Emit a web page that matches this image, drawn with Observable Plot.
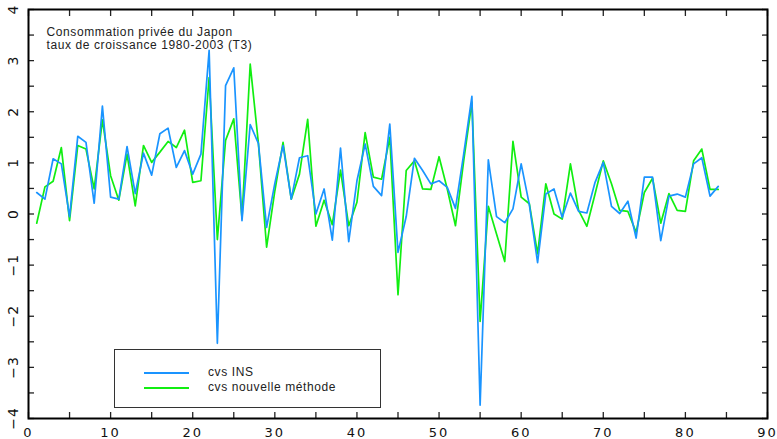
<!DOCTYPE html>
<html>
<head>
<meta charset="utf-8">
<script src="https://cdn.jsdelivr.net/npm/d3@7"></script>
<script src="https://cdn.jsdelivr.net/npm/@observablehq/plot@0.6"></script>
<style>
  html, body { margin: 0; padding: 0; background: #fff; }
  #wrap { position: relative; width: 777px; height: 439px; }
  [aria-description="title-text"] text { letter-spacing: 0.6px; }
  [aria-description="x-labels"] text { letter-spacing: 2px; }
  [aria-description="y-labels"] text { letter-spacing: 1px; }
  #legend {
    position: absolute; left: 114px; top: 349px; width: 265px; height: 57px;
    border: 1px solid #333; background: #fff; box-sizing: content-box;
    font-family: "Liberation Sans", Arial, sans-serif; font-size: 12px; letter-spacing: 0.6px; color: #222;
  }
  #legend .row { position: absolute; left: 0; height: 14px; }
  #legend .sw { position: absolute; left: 29px; width: 45px; height: 2px; }
  #legend .lab { position: absolute; left: 93px; top: -7px; white-space: nowrap; }
</style>
</head>
<body>
<div id="wrap"></div>
<script>
// Period index (quarters 1980-2003)
const periods = [1,2,3,4,5,6,7,8,9,10,11,12,13,14,15,16,17,18,19,20,21,22,23,24,25,26,27,28,29,30,31,32,33,34,35,36,37,38,39,40,41,42,43,44,45,46,47,48,49,50,51,52,53,54,55,56,57,58,59,60,61,62,63,64,65,66,67,68,69,70,71,72,73,74,75,76,77,78,79,80,81,82,83,84];

// cvs INS (blue)
const cvsINS = [0.42,0.29,1.08,0.98,-0.05,1.52,1.40,0.21,2.11,0.33,0.29,1.32,0.40,1.19,0.76,1.57,1.68,0.91,1.24,0.78,1.17,3.20,-2.53,2.51,2.86,-0.13,1.75,1.38,-0.26,0.60,1.34,0.29,1.10,1.14,0.00,0.49,-0.51,1.29,-0.54,0.65,1.37,0.54,0.36,1.76,-0.75,-0.05,1.09,0.85,0.59,0.65,0.52,0.11,1.17,2.30,-3.74,1.06,-0.05,-0.17,0.10,0.98,0.18,-0.95,0.39,0.49,-0.07,0.41,0.05,0.02,0.62,1.01,0.15,0.01,0.25,-0.47,0.72,0.72,-0.52,0.35,0.39,0.33,0.98,1.10,0.35,0.54];

// cvs nouvelle méthode (green)
const cvsNouvelle = [-0.18,0.53,0.64,1.30,-0.13,1.34,1.27,0.49,1.84,0.75,0.27,1.17,0.16,1.34,1.01,1.21,1.42,1.30,1.64,0.62,0.65,2.67,-0.50,1.44,1.86,-0.08,2.93,1.38,-0.65,0.45,1.40,0.29,0.78,1.85,-0.24,0.27,-0.21,0.86,-0.23,0.23,1.59,0.72,0.68,1.50,-1.58,0.85,1.04,0.49,0.48,1.12,0.49,-0.23,1.04,2.19,-2.10,0.15,-0.39,-0.93,1.42,0.33,0.20,-0.78,0.59,0.00,-0.10,0.98,0.07,-0.24,0.39,1.04,0.59,0.07,0.05,-0.36,0.42,0.70,-0.18,0.40,0.07,0.05,1.04,1.27,0.48,0.48];

// Axes
const xTickValues = [0,5,10,15,20,25,30,35,40,45,50,55,60,65,70,75,80,85,90];
const xLabelValues = [0,10,20,30,40,50,60,70,80,90];
const xLabelTexts = ["0","10","20","30","40","50","60","70","80","90"];
const yTickValues = [-4,-3.5,-3,-2.5,-2,-1.5,-1,-0.5,0,0.5,1,1.5,2,2.5,3,3.5,4];
const yLabelValues = [-4,-3,-2,-1,0,1,2,3,4];
const yLabelTexts = ["\u22124","\u22123","\u22122","\u22121","0","1","2","3","4"];

// Texts
const titleLines = ["Consommation privée du Japon", "taux de croissance 1980-2003 (T3)"];
const seriesNames = ["cvs INS", "cvs nouvelle méthode"];
const seriesColors = ["#1a94ff", "#11ee11"];

const insData = periods.map((t, i) => ({t, v: cvsINS[i]}));
const nouvData = periods.map((t, i) => ({t, v: cvsNouvelle[i]}));
const xLab = xLabelValues.map((v, i) => ({v, s: xLabelTexts[i]}));
const yLab = yLabelValues.map((v, i) => ({v, s: yLabelTexts[i]}));

const tickFont = "DejaVu Sans, sans-serif";
const tickColor = "#222";

const chart = Plot.plot({
  width: 777,
  height: 439,
  marginLeft: 28,
  marginRight: 10,
  marginTop: 9,
  marginBottom: 21,
  x: {domain: [0, 90], label: null},
  y: {domain: [-4, 4], label: null},
  style: {background: "#fff", overflow: "visible"},
  marks: [
    Plot.line(nouvData, {x: "t", y: "v", stroke: seriesColors[1], strokeWidth: 1.7}),
    Plot.line(insData, {x: "t", y: "v", stroke: seriesColors[0], strokeWidth: 1.7}),
    // inward ticks on all four sides
    Plot.axisX(xTickValues, {anchor: "bottom", tickSize: -6, tickFormat: () => "", label: null, stroke: tickColor, strokeWidth: 1.3}),
    Plot.axisX(xTickValues, {anchor: "top", tickSize: -6, tickFormat: () => "", label: null, stroke: tickColor, strokeWidth: 1.3}),
    Plot.axisY(yTickValues, {anchor: "left", tickSize: -6, tickFormat: () => "", label: null, stroke: tickColor, strokeWidth: 1.3}),
    Plot.axisY(yTickValues, {anchor: "right", tickSize: -6, tickFormat: () => "", label: null, stroke: tickColor, strokeWidth: 1.3}),
    // tick labels
    Plot.text(xLab, {x: "v", text: "s", frameAnchor: "bottom", dy: 14, lineAnchor: "middle", textAnchor: "middle",
      fontSize: 13, fontFamily: tickFont, fill: "#111", ariaDescription: "x-labels"}),
    Plot.text(yLab, {y: "v", text: "s", frameAnchor: "left", dx: -15, rotate: -90, lineAnchor: "middle", textAnchor: "middle",
      fontSize: 14, fontFamily: tickFont, fill: "#111", ariaDescription: "y-labels"}),
    // title inside the frame
    Plot.text([titleLines[0]], {text: d => d, frameAnchor: "top-left", dx: 18, dy: 18, lineAnchor: "top", textAnchor: "start",
      fontSize: 12, fontFamily: "Liberation Sans, Arial, sans-serif", fill: "#222", ariaDescription: "title-text"}),
    Plot.text([titleLines[1]], {text: d => d, frameAnchor: "top-left", dx: 18, dy: 30.5, lineAnchor: "top", textAnchor: "start",
      fontSize: 12, fontFamily: "Liberation Sans, Arial, sans-serif", fill: "#222", ariaDescription: "title-text"}),
    Plot.frame({stroke: "#000", strokeWidth: 2})
  ]
});

const wrap = document.getElementById("wrap");
wrap.appendChild(chart);

// Legend (inside the plot area, bottom-left)
const legend = document.createElement("div");
legend.id = "legend";
const rowsTop = [22, 37];
seriesNames.forEach((name, i) => {
  const row = document.createElement("div");
  row.className = "row";
  row.style.top = rowsTop[i] + "px";
  const sw = document.createElement("div");
  sw.className = "sw";
  sw.style.background = seriesColors[i];
  const lab = document.createElement("div");
  lab.className = "lab";
  lab.textContent = name;
  row.appendChild(sw);
  row.appendChild(lab);
  legend.appendChild(row);
});
wrap.appendChild(legend);
</script>
</body>
</html>
